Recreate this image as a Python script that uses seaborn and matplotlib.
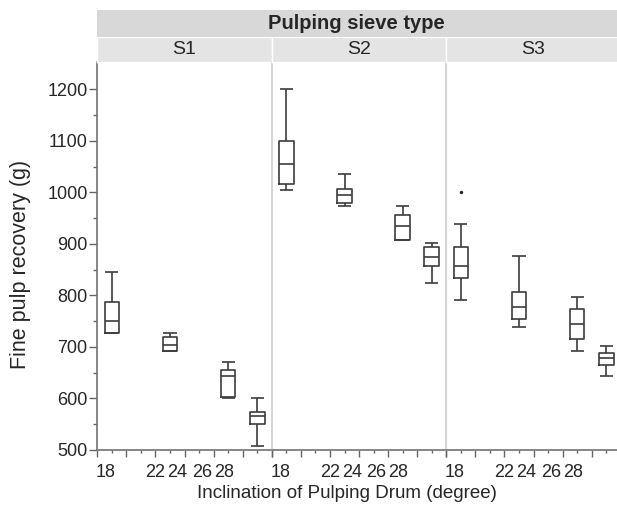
import numpy as np
import pandas as pd
import seaborn as sns
import matplotlib.pyplot as plt

# box summaries (g), order: S1 18/22/26/28, S2 ..., S3 ...
sieve = ["S1"] * 4 + ["S2"] * 4 + ["S3"] * 4
angle = [18, 22, 26, 28] * 3
whis_lo = [727, 692, 601, 508, 1004, 973, 907, 825, 791, 739, 693, 644]
q1 = [728, 692, 602, 550, 1017, 979, 908, 858, 834, 754, 715, 665]
median = [751, 704, 644, 566, 1056, 995, 935, 875, 857, 778, 744, 679]
q3 = [787, 720, 655, 574, 1100, 1006, 957, 893, 894, 807, 773, 689]
whis_hi = [846, 728, 671, 600, 1200, 1035, 973, 902, 938, 876, 796, 702]

outlier_sieve = ["S3"]
outlier_angle = [18]
outlier_value = [1000]

panels = ["S1", "S2", "S3"]
xtick_labels = ["18", "22", "24", "26", "28"]

rows = []
for s, a, lo, a1, m, a3, hi in zip(sieve, angle, whis_lo, q1, median, q3, whis_hi):
    for v in (lo, a1, m, a3, hi):
        rows.append({"sieve": s, "angle": a, "recovery": v})
df = pd.DataFrame(rows)
out = pd.DataFrame({"sieve": outlier_sieve, "angle": outlier_angle, "recovery": outlier_value})
ends = pd.DataFrame({"sieve": sieve, "angle": angle, "lo": whis_lo, "hi": whis_hi})

sns.set_theme(style="ticks")
plt.rcParams["font.family"] = ["Liberation Sans", "DejaVu Sans"]

W, H = 617, 505
fig = plt.figure(figsize=(W / 100, H / 100), dpi=100)


def rect(x0, y0, x1, y1):
    return [x0 / W, 1 - y1 / H, (x1 - x0) / W, (y1 - y0) / H]


line_c = "#3c3c3c"
text_c = "#262626"
panel_x = [97.3, 271.8, 446.3]
panel_w = 174.5
cap_half = 0.45
label_pos = [17.6, 21.0, 22.5, 24.2, 25.7]  # where the reference prints its tick labels

for i, s in enumerate(panels):
    ax = fig.add_axes(rect(panel_x[i], 62, panel_x[i] + panel_w, 450))
    sub = df[df.sieve == s]
    sns.boxplot(data=sub, x="angle", y="recovery", native_scale=True,
                whis=(0, 100), fill=False, color=line_c, linewidth=1.2, width=0.5,
                capprops={"visible": False}, ax=ax)
    # caps as wide as the boxes, like the original
    e = ends[ends.sieve == s]
    for col in ("lo", "hi"):
        ax.hlines(e[col], e.angle - cap_half, e.angle + cap_half, color=line_c, lw=1.2)
    o = out[out.sieve == s]
    if len(o):
        sns.scatterplot(data=o, x="angle", y="recovery", color="#222222", s=6,
                        linewidth=0, ax=ax)
    ax.set_xlim(17, 29)
    ax.set_ylim(500, 1253)
    ax.set_xlabel("")
    ax.set_ylabel("")
    ax.set_xticks(np.arange(17, 30, 2), labels=[])
    ax.set_xticks(np.arange(18, 29, 2), minor=True)
    ax.tick_params(axis="x", which="major", length=5, width=1, color="#666666")
    ax.tick_params(axis="x", which="minor", length=2.5, width=1, color="#666666")
    for p, t in zip(label_pos, xtick_labels):
        ax.annotate(t, xy=(p, 0), xycoords=("data", "axes fraction"), xytext=(0, -10),
                    textcoords="offset points", ha="center", va="top", fontsize=13,
                    color=text_c, annotation_clip=False)
    ax.spines["top"].set_visible(False)
    ax.spines["right"].set_visible(False)
    ax.spines["bottom"].set_color("#777777")
    if i == 0:
        ax.set_yticks(np.arange(500, 1201, 100))
        ax.set_yticks(np.arange(550, 1201, 100), minor=True)
        ax.tick_params(axis="y", which="major", length=6, width=1, color="#666666",
                       labelsize=13, labelcolor=text_c, pad=1)
        ax.tick_params(axis="y", which="minor", length=3, width=1, color="#666666")
        ax.spines["left"].set_color("#777777")
    else:
        ax.set_yticks([])
        ax.tick_params(axis="y", which="both", left=False, labelleft=False)
        ax.spines["left"].set_color("#d6d6d6")
        ax.spines["left"].set_linewidth(1.5)

    # panel strip
    st = fig.add_axes(rect(panel_x[i], 36.7, panel_x[i] + panel_w, 61.7))
    st.set_facecolor("#e4e4e4")
    st.set_xticks([])
    st.set_yticks([])
    for sp in st.spines.values():
        sp.set_color("white")
        sp.set_linewidth(1)
    st.text(0.5, 0.5, s, ha="center", va="center", fontsize=14, color=text_c,
            transform=st.transAxes)

top = fig.add_axes(rect(97.3, 10, 446.3 + panel_w, 36.7))
top.set_facecolor("#d8d8d8")
top.set_xticks([])
top.set_yticks([])
for sp in top.spines.values():
    sp.set_visible(False)
fig.text(356 / W, 1 - 23.5 / H, "Pulping sieve type", ha="center", va="center",
         fontsize=14.5, fontweight="bold", color=text_c)

fig.text(347 / W, 1 - 494 / H, "Inclination of Pulping Drum (degree)", ha="center",
         va="center", fontsize=13.5, color=text_c)
fig.text(21 / W, 1 - 264 / H, "Fine pulp recovery (g)", ha="center", va="center",
         rotation=90, fontsize=15.5, color=text_c)

fig.savefig("out.png", dpi=100)
